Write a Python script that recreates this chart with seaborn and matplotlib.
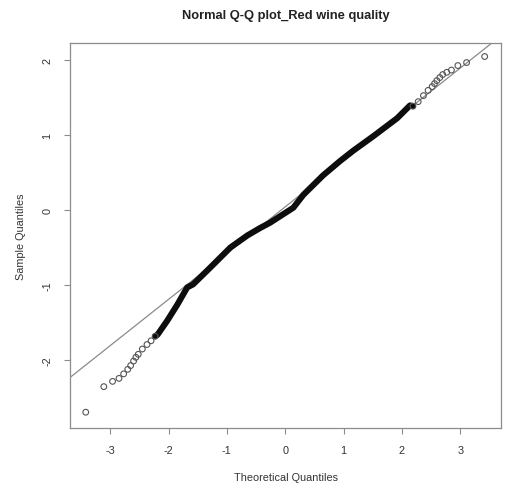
import matplotlib
matplotlib.use("Agg")

import matplotlib.pyplot as plt
import seaborn as sns
import pandas as pd

# values
title = "Normal Q-Q plot_Red wine quality"
x_label = "Theoretical Quantiles"
y_label = "Sample Quantiles"
x_ticks = [-3, -2, -1, 0, 1, 2, 3]
y_ticks = [-2, -1, 0, 1, 2]

# isolated points in the lower tail
low_theo = [-3.42, -3.11, -2.96, -2.85, -2.77, -2.70, -2.65, -2.60, -2.56,
            -2.52, -2.45, -2.37, -2.30, -2.23]
low_sample = [-2.69, -2.35, -2.28, -2.24, -2.18, -2.12, -2.07, -2.01, -1.96,
              -1.92, -1.85, -1.79, -1.74, -1.68]

# isolated points in the upper tail
high_theo = [2.19, 2.28, 2.37, 2.45, 2.52, 2.56, 2.60, 2.65, 2.70, 2.77,
             2.85, 2.96, 3.11, 3.42]
high_sample = [1.38, 1.44, 1.52, 1.59, 1.64, 1.68, 1.72, 1.76, 1.80, 1.83,
               1.86, 1.92, 1.96, 2.04]

# the dense middle of the sample, where the circles merge into one band
band_theo = [-2.23, -2.19, -2.02, -1.85, -1.68, -1.58, -1.29, -0.94, -0.65,
             -0.43, -0.26, 0.14, 0.31, 0.65, 0.94, 1.17, 1.51, 1.92, 2.14, 2.19]
band_sample = [-1.68, -1.66, -1.47, -1.26, -1.03, -0.99, -0.77, -0.50, -0.34,
               -0.24, -0.17, 0.03, 0.20, 0.46, 0.65, 0.79, 0.98, 1.22, 1.39, 1.38]

# qqline through the quartiles
line_intercept = 0.041
line_slope = 0.615

tails = pd.DataFrame({"theo": low_theo + high_theo,
                      "sample": low_sample + high_sample})
band = pd.DataFrame({"theo": band_theo, "sample": band_sample})

sns.set_style("white")
plt.rcParams["font.family"] = ["Liberation Sans", "DejaVu Sans"]

fig = plt.figure(figsize=(5.23, 4.89), dpi=100)
ax = fig.add_axes([70 / 523, 1 - 429 / 489, 431 / 523, 385 / 489])

ax.axline((0, line_intercept), slope=line_slope, color="#8a8a8a", lw=0.9, zorder=1)

# dense core drawn as one thick dark stroke
sns.lineplot(data=band, x="theo", y="sample", ax=ax, color="#0d0d0d",
             lw=4.4, sort=False, zorder=2, solid_joinstyle="round",
             solid_capstyle="round")
sns.scatterplot(data=tails, x="theo", y="sample", ax=ax, marker="o", s=17,
                facecolor="none", edgecolor="#555555", linewidth=0.8, zorder=3)

ax.set_xlim(-3.69, 3.70)
ax.set_ylim(-2.90, 2.22)
ax.set_xticks(x_ticks)
ax.set_yticks(y_ticks)
ax.set_xticklabels([str(t) for t in x_ticks])
ax.set_yticklabels([str(t) for t in y_ticks], rotation=90, va="center")

for side in ["left", "right", "top", "bottom"]:
    ax.spines[side].set_visible(True)
    ax.spines[side].set_color("#8c8c8c")
    ax.spines[side].set_linewidth(0.9)

ax.tick_params(axis="both", direction="out", length=4.5, width=0.8,
               color="#8c8c8c", labelsize=7.8, labelcolor="#333333")
ax.tick_params(axis="x", pad=8)
ax.tick_params(axis="y", pad=8)
ax.tick_params(left=True, bottom=True)

ax.set_xlabel(x_label, fontsize=7.8, color="#333333", va="center")
ax.set_ylabel(y_label, fontsize=7.8, color="#333333", va="center")
ax.xaxis.set_label_coords(0.5, (429 - 478) / 385)
ax.yaxis.set_label_coords((21 - 70) / 431, 0.5)

ax.set_title(title, fontsize=9.3, fontweight="bold", color="#222222",
             y=(429 - 19) / 385, va="baseline", pad=0)

fig.savefig("out.png", dpi=100)
plt.close(fig)
